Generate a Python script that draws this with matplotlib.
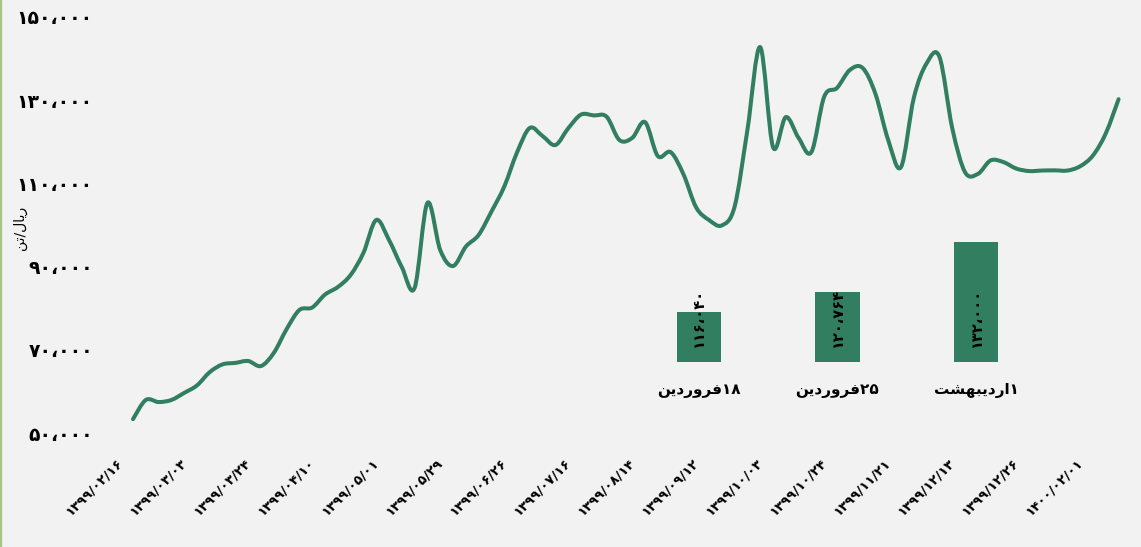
import matplotlib
matplotlib.use("Agg")
import matplotlib.pyplot as plt
from matplotlib.path import Path
from matplotlib.patches import PathPatch
from matplotlib.lines import Line2D
import numpy as np

# ---------------- data ----------------
date_labels = ["1399/02/16", "1399/03/03", "1399/03/24", "1399/04/10", "1399/05/01",
               "1399/05/29", "1399/06/26", "1399/07/16", "1399/08/14", "1399/09/12",
               "1399/10/03", "1399/10/24", "1399/11/21", "1399/12/13", "1399/12/26",
               "1400/02/01"]
label_step = 5

# one value per category; the first category has no value
prices = [None,
          53400, 58000, 57500, 58000, 59700, 61500, 64700, 66550, 66900, 67350,
          66150, 69300, 75000, 79600, 80200, 83300, 85100, 88000, 93300, 101200,
          96400, 89900, 84900, 105300, 94000, 90150, 94800, 97600, 103200, 109200,
          117400, 123300, 121350, 119200, 123200, 126500, 126300, 126000, 120400, 120900,
          124700, 116550, 117500, 112200, 104200, 101200, 99900, 104400, 122800, 142700,
          118700, 125900, 120900, 117500, 130800, 132900, 137200, 137700, 131500, 120400,
          113900, 130500, 138800, 140400, 123300, 112700, 112250, 115500, 115100, 113550,
          112950, 113070, 113120, 113070, 114100, 116700, 122000, 130200]

y_ticks = [50000, 70000, 90000, 110000, 130000, 150000]
y_label = "ریال/تن"

bar_categories = ["۱۸فروردین", "۲۵فروردین", "۱اردیبهشت"]
bar_values = [116040, 120764, 132000]

# ---------------- minimal Persian shaping ----------------
FORMS = {  # iso, fin, ini, med
    '\u0627': ('\ufe8d', '\ufe8e', None, None),
    '\u0631': ('\ufead', '\ufeae', None, None),
    '\u0648': ('\ufeed', '\ufeee', None, None),
    '\u062f': ('\ufea9', '\ufeaa', None, None),
    '\u06cc': ('\ufbfc', '\ufbfd', '\ufbfe', '\ufbff'),
    '\u0628': ('\ufe8f', '\ufe90', '\ufe91', '\ufe92'),
    '\u0647': ('\ufee9', '\ufeea', '\ufeeb', '\ufeec'),
    '\u0634': ('\ufeb5', '\ufeb6', '\ufeb7', '\ufeb8'),
    '\u062a': ('\ufe95', '\ufe96', '\ufe97', '\ufe98'),
    '\u0646': ('\ufee5', '\ufee6', '\ufee7', '\ufee8'),
    '\u0641': ('\ufed1', '\ufed2', '\ufed3', '\ufed4'),
    '\u0644': ('\ufedd', '\ufede', '\ufedf', '\ufee0'),
}
FA_DIGITS = str.maketrans("0123456789,", "۰۱۲۳۴۵۶۷۸۹،")


def fa_num(s):
    return s.translate(FA_DIGITS)


def shape_word(w):
    out = []
    for k, c in enumerate(w):
        f = FORMS.get(c)
        if f is None:
            out.append(c)
            continue
        prev = w[k - 1] if k > 0 else None
        nxt = w[k + 1] if k + 1 < len(w) else None
        pj = prev in FORMS and FORMS[prev][2] is not None
        nj = nxt in FORMS and f[2] is not None
        if pj and nj:
            out.append(f[3])
        elif pj:
            out.append(f[1])
        elif nj:
            out.append(f[2])
        else:
            out.append(f[0])
    return "".join(out)


def fa_visual(s):
    runs, cur, cur_digit = [], "", None
    for c in s:
        d = c in "۰۱۲۳۴۵۶۷۸۹"
        if cur and d != cur_digit:
            runs.append((cur, cur_digit))
            cur = ""
        cur += c
        cur_digit = d
    if cur:
        runs.append((cur, cur_digit))
    vis = []
    for text, isdig in reversed(runs):
        vis.append(text if isdig else shape_word(text)[::-1])
    return "".join(vis)


# ---------------- figure ----------------
W, H = 1141, 547
BG = "#f2f2f2"
GREEN = "#327e60"
plt.rcParams['font.family'] = ['DejaVu Sans']

fig = plt.figure(figsize=(W / 100, H / 100), dpi=100, facecolor=BG)

n = len(prices)
px_left, px_right = 113.8, 1125.0
y_top, y_bot = 16.7, 433.3
ax = fig.add_axes([px_left / W, (H - y_bot) / H, (px_right - px_left) / W, (y_bot - y_top) / H])
ax.set_facecolor("none")
ax.set_xlim(-0.5, n - 0.5)
ax.set_ylim(50000, 150000)
for s in ax.spines.values():
    s.set_visible(False)

# smooth line (Catmull-Rom as cubic Bezier) through the available values
pts = [(i, v) for i, v in enumerate(prices) if v is not None]
xs = np.array([p[0] for p in pts], dtype=float)
ys = np.array([p[1] for p in pts], dtype=float)
m = len(xs)
verts = [(xs[0], ys[0])]
codes = [Path.MOVETO]
for i in range(m - 1):
    i0 = max(i - 1, 0)
    i3 = min(i + 2, m - 1)
    c1 = (xs[i] + (xs[i + 1] - xs[i0]) / 6, ys[i] + (ys[i + 1] - ys[i0]) / 6)
    c2 = (xs[i + 1] - (xs[i3] - xs[i]) / 6, ys[i + 1] - (ys[i3] - ys[i]) / 6)
    verts += [c1, c2, (xs[i + 1], ys[i + 1])]
    codes += [Path.CURVE4] * 3
ax.add_patch(PathPatch(Path(verts, codes), fill=False, edgecolor=GREEN, lw=2.9,
                       capstyle='round', joinstyle='round'))

ax.set_yticks(y_ticks)
ax.set_yticklabels([fa_num(f"{v:,}") for v in y_ticks], fontsize=13.5, fontweight='bold')
ax.tick_params(axis='y', length=0, pad=15)

xt = [i * label_step for i in range(len(date_labels))]
ax.set_xticks(xt)
ax.set_xticklabels([fa_num(d) for d in date_labels], rotation=45, ha='right',
                   rotation_mode='anchor', fontsize=9.5, fontweight='bold', va='center')
ax.tick_params(axis='x', length=0, pad=19.8)

fig.text(20 / W, 1 - 228 / H, fa_visual(y_label), rotation=90, ha='center', va='center',
         fontsize=10)

# left border
fig.add_artist(Line2D([0.0009, 0.0009], [0, 1], transform=fig.transFigure,
                      color="#a8c47e", lw=1.6))

# ---------------- inset bars ----------------
ib_bottom = 361.7
ib_lo, ib_hi = 104900, 134600
ppk = 4.424  # px per 1000
ib_h = (ib_hi - ib_lo) * ppk / 1000
ib_left, ib_w = 629.4, 416.1
ax2 = fig.add_axes([ib_left / W, (H - ib_bottom) / H, ib_w / W, ib_h / H])
ax2.set_facecolor("none")
for s in ax2.spines.values():
    s.set_visible(False)
ax2.set_xlim(-0.5, 2.5)
ax2.set_ylim(ib_lo, ib_hi)
ax2.bar(range(len(bar_values)), bar_values, width=0.32, color=GREEN)
ax2.set_yticks([])
ax2.set_xticks(range(len(bar_categories)))
ax2.set_xticklabels([fa_visual(c) for c in bar_categories], fontsize=11, fontweight='bold')
ax2.tick_params(axis='x', length=0, pad=15)
for i, v in enumerate(bar_values):
    ax2.annotate(fa_num(f"{v:,}"), xy=(i, ib_lo), xytext=(0, 10.5), textcoords='offset points',
                 rotation=90, ha='center', va='bottom', fontsize=10.5, fontweight='bold',
                 color='black')

fig.savefig("out.png", dpi=100, facecolor=BG)
